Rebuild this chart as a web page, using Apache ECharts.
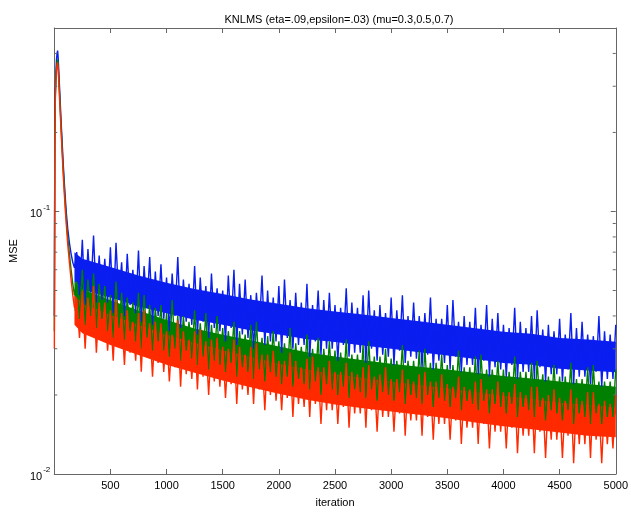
<!DOCTYPE html>
<html>
<head>
<meta charset="utf-8">
<script src="https://cdn.jsdelivr.net/npm/echarts@6/dist/echarts.min.js"></script>
<style>
  html, body { margin: 0; padding: 0; background: #fff; }
  #chart { width: 631px; height: 513px; }
</style>
</head>
<body>
<div id="chart"></div>
<script>
// iterations for the fast initial drop, then a regular grid from 200 to 5000
const earlyIter = [1, 5, 10, 15, 20, 25, 30, 35, 40, 50, 60, 70, 80, 90, 100, 110, 120, 135, 150, 165, 180];
const tailStart = 200;
const tailStep = 25;

// MSE values in units of 1e-3 (per mille)
const blueEarly  = [40, 200, 290, 340, 380, 400, 410, 385, 345, 280, 225, 185, 152, 128, 110, 96, 86, 76, 69, 64, 61];
const greenEarly = [35, 190, 280, 325, 355, 370, 380, 360, 325, 265, 215, 175, 145, 122, 104, 90, 80, 69, 60, 53, 48];
const redEarly   = [30, 180, 270, 315, 345, 360, 370, 350, 315, 255, 206, 168, 138, 116, 99, 86, 75, 64, 55, 48, 43];

// spiky samples, one every 25 iterations
const blueTail = [
  70, 48, 78, 44, 72, 49, 81, 45, 68, 46,
  66, 45, 73, 41, 76, 46, 64, 40, 69, 44,
  60, 41, 71, 38, 62, 43, 67, 37, 59, 40,
  63, 39, 56, 35, 58, 40, 67, 36, 55, 38,
  53, 37, 62, 34, 56, 38, 52, 33, 58, 36,
  51, 35, 50, 32, 57, 36, 60, 31, 53, 34,
  55, 33, 48, 30, 49, 35, 57, 31, 50, 32,
  47, 32, 52, 29, 55, 33, 46, 30, 49, 31,
  45, 31, 53, 28, 44, 32, 50, 28.5, 46, 30,
  49, 30, 44, 27, 43, 31, 51, 28, 45, 29,
  43, 29, 48, 26.5, 50, 30, 42, 27, 44, 28.5,
  41, 28, 47, 26, 42, 29.5, 48, 26.5, 40, 28,
  45, 27.5, 40, 25.5, 41, 28.5, 47, 25, 39, 27,
  39, 26.5, 44, 25, 46, 28, 38, 24.5, 40, 26,
  38, 26, 43, 24, 37, 27, 44, 23.5, 39, 25.5,
  41, 25, 37, 23.5, 36, 26, 43, 23, 38, 24.5,
  36, 24.5, 40, 23, 42, 25.5, 35.5, 22.5, 37, 24,
  35, 24, 39, 22.5, 34, 25, 41, 22, 36, 23.5,
  38, 23.5, 34, 22, 33.5, 24.5, 40, 21.5, 35, 23,
  34, 23, 37
];
const greenTail = [
  54, 39, 60, 37, 55, 40, 58, 36, 53, 39,
  52, 35, 48, 33, 54, 36, 49, 32.5, 47, 35,
  45, 32, 49, 30, 48, 33, 44, 29.5, 43, 32,
  44, 29.5, 41, 28, 46, 30, 40, 27, 40, 29.5,
  38, 27.5, 42, 26, 37.5, 28, 41, 25, 37, 27,
  40, 26, 36, 24.5, 35, 26.5, 38, 23.5, 35, 25.5,
  34, 24.5, 37, 23, 38, 25, 33, 22.5, 33.5, 24.5,
  35, 23.5, 32, 22, 31.5, 23.5, 36, 21.5, 31.5, 23,
  30.5, 22, 34, 21, 30, 22.5, 33, 20, 30, 22,
  32, 21, 29.5, 20, 29, 21.5, 32.5, 19.5, 28.5, 21,
  28.5, 20.5, 31, 19.5, 32, 21, 28, 19, 28, 20.5,
  30, 20, 27.5, 19, 27, 20.5, 31, 18.5, 27, 20,
  27, 19.5, 29.5, 18.5, 30, 20, 26.5, 18, 26.5, 19.5,
  28.5, 19, 26, 18, 26, 19.5, 29.5, 17.5, 25.5, 19,
  25.5, 18.5, 28, 17.5, 28.5, 19, 25, 17, 25, 18.5,
  27, 18, 25, 17, 24.5, 18.5, 28, 16.5, 24.5, 18,
  24.5, 17.5, 26.5, 16.5, 27, 18, 24, 16, 23.5, 17.5,
  26, 17, 23.5, 16, 23.5, 17.5, 26.5, 15.5, 23, 17,
  23, 16.5, 25.5, 15.5, 26, 17, 22.5, 15.5, 22.5, 16.5,
  22.5, 16.5, 25
];
const redTail = [
  46, 33, 50, 30, 47, 34, 52, 29, 45, 33,
  45, 29.5, 42, 27, 46, 31, 41, 26, 42, 29,
  38, 27, 41, 24.5, 42, 28, 37.5, 23.5, 38, 26.5,
  37.5, 24.5, 35, 22.5, 34, 25.5, 38.5, 21.5, 35, 24,
  32.5, 23, 35, 21, 35.5, 23.5, 32, 20, 32.5, 22.5,
  33, 21.5, 30.5, 19.5, 30, 22, 32.5, 18.5, 30.5, 21,
  28.5, 20, 30.5, 18.5, 31.5, 21, 28.5, 17.5, 28.5, 20,
  29.5, 19, 27, 17.5, 27, 19.5, 29, 16.5, 27, 18.5,
  25.5, 18, 27.5, 16.5, 28, 18.5, 25.5, 15.5, 25.5, 17.5,
  27, 17.5, 24.5, 15.5, 24.5, 18, 26.5, 15, 24.5, 17,
  24, 17, 25.5, 15, 26, 17.5, 23.5, 14.5, 24, 16.5,
  25.5, 16.5, 23, 14.5, 23, 17, 25, 14, 23, 16,
  22.5, 16, 24, 14, 24.5, 16.5, 22.5, 13.5, 22.5, 15.5,
  24, 15.5, 22, 13.5, 21.5, 16, 23.5, 13, 21.5, 15,
  21, 15, 22.5, 13, 23, 15.5, 21, 12.5, 21, 14.5,
  22.5, 14.5, 20.5, 12.5, 20.5, 15, 22, 12, 20.5, 14,
  20, 14, 21.5, 12, 21.5, 14.5, 19.5, 11.5, 20, 13.5,
  21, 13.5, 19.5, 11.5, 19, 14, 21, 11, 19.5, 13,
  19, 13, 20.5, 11.5, 20.5, 13.5, 18.5, 11, 19, 13,
  18.5, 12.5, 20
];

// dense core of each noisy trace (per mille): lower and upper edge
const bandIter = [180, 250, 500, 750, 1000, 1250, 1500, 1750, 2000, 2250, 2500, 2750, 3000, 3250, 3500, 3750, 4000, 4250, 4500, 4750, 5000];
const blueLo  = [54, 50.5, 47, 43.5, 41, 38.7, 37, 35.2, 34, 32.6, 31.8, 30.9, 30, 29.1, 28.3, 27.4, 26.5, 26.1, 25.2, 24.8, 24.4];
const blueHi  = [70, 66, 61.5, 57, 53.5, 50.7, 48.5, 46.2, 44.5, 42.8, 41.6, 40.5, 39.3, 38.2, 37, 35.9, 34.8, 34.2, 33, 32.5, 31.9];
const greenLo = [42, 39.6, 36, 33, 30.4, 28.2, 26.7, 25.3, 24, 22.9, 22, 21.3, 20.7, 20.2, 19.6, 19.1, 18.6, 18.1, 17.7, 17.2, 16.9];
const greenHi = [54, 50.4, 45.9, 42, 38.6, 35.8, 33.9, 32.3, 30.6, 29.1, 28, 27.1, 26.3, 25.6, 25, 24.3, 23.6, 23.1, 22.5, 22, 21.5];
const redLo   = [37, 34.4, 31, 28.4, 26.1, 24.3, 22.7, 21.4, 20.2, 19.2, 18.4, 17.8, 17.3, 16.8, 16.3, 15.7, 15.2, 14.8, 14.4, 14, 13.8];
const redHi   = [48, 44.8, 40.3, 37, 33.9, 31.6, 29.6, 27.9, 26.3, 25, 24, 23.2, 22.5, 21.8, 21.2, 20.5, 19.8, 19.3, 18.7, 18.3, 17.9];

const xTicks = [500, 1000, 1500, 2000, 2500, 3000, 3500, 4000, 4500, 5000];
const yMinorTicks = [0.02, 0.03, 0.04, 0.05, 0.06, 0.07, 0.08, 0.09, 0.2, 0.3, 0.4];

function build(early, tail) {
  const pts = early.map((v, i) => [earlyIter[i], v / 1000]);
  tail.forEach((v, i) => pts.push([tailStart + i * tailStep, v / 1000]));
  return pts;
}

const chart = echarts.init(document.getElementById('chart'));
const font = 'Liberation Sans, Arial, sans-serif';
const frame = '#666';
const yMin = 0.01, yMax = 0.5;

const supLabel = v => {
  const e = Math.round(Math.log10(v));
  if (Math.abs(Math.log10(v) - e) > 1e-6) return '';
  return '{b|10}{s|' + e + '}';
};

// band = filled polygon between lo and hi, placed through the axes
function band(color, lo, hi) {
  return {
    type: 'custom', silent: true, clip: true,
    data: bandIter.map((x, i) => [x, lo[i] / 1000, hi[i] / 1000]),
    encode: { x: 0, y: [1, 2] },
    renderItem: (params, api) => {
      if (params.dataIndex !== 0) return null;
      const pts = [];
      bandIter.forEach((x, i) => pts.push(api.coord([x, lo[i] / 1000])));
      for (let i = bandIter.length - 1; i >= 0; i--) pts.push(api.coord([bandIter[i], hi[i] / 1000]));
      return { type: 'polygon', shape: { points: pts }, style: { fill: color } };
    }
  };
}

function trace(name, color, early, tail, lo, hi) {
  return [
    band(color, lo, hi),
    {
      type: 'line', name: name, data: build(early, tail),
      showSymbol: false, symbol: 'none',
      lineStyle: { color: color, width: 1.4 }
    }
  ];
}

const option = {
  animation: false,
  backgroundColor: '#fff',
  title: {
    text: 'KNLMS (eta=.09,epsilon=.03) (mu=0.3,0.5,0.7)',
    left: 334, top: 9, textAlign: 'center',
    textStyle: { fontFamily: font, fontSize: 11, fontWeight: 'normal', color: '#000' }
  },
  grid: { left: 51, top: 28, right: 13, bottom: 39, show: false },
  xAxis: [{
    type: 'value', min: 0, max: 5000, interval: 500,
    name: 'iteration', nameLocation: 'middle', nameGap: 23,
    nameTextStyle: { fontFamily: font, fontSize: 11, color: '#000' },
    axisLine: { onZero: false, lineStyle: { color: frame, width: 1 } },
    axisTick: { inside: true, length: 5, lineStyle: { color: frame } },
    axisLabel: {
      fontFamily: font, fontSize: 11, color: '#000', margin: 6,
      formatter: v => (xTicks.indexOf(v) >= 0 ? String(v) : '')
    },
    splitLine: { show: false }
  }, {
    type: 'value', min: 0, max: 5000, interval: 500, position: 'top',
    axisLine: { onZero: false, lineStyle: { color: frame, width: 1 } },
    axisTick: { inside: true, length: 5, lineStyle: { color: frame } },
    axisLabel: { show: false },
    splitLine: { show: false }
  }],
  yAxis: [{
    type: 'log', logBase: 10, min: yMin, max: yMax,
    name: 'MSE', nameLocation: 'middle', nameGap: 33, nameRotate: 90,
    nameTextStyle: { fontFamily: font, fontSize: 11, color: '#000' },
    axisLine: { onZero: false, lineStyle: { color: frame, width: 1 } },
    axisTick: { inside: true, length: 5, lineStyle: { color: frame } },
    axisLabel: {
      fontFamily: font, color: '#000', margin: 4,
      formatter: supLabel,
      rich: {
        b: { fontFamily: font, fontSize: 11, color: '#000', lineHeight: 16, verticalAlign: 'bottom' },
        s: { fontFamily: font, fontSize: 8, color: '#000', lineHeight: 8, verticalAlign: 'top', padding: [0, 0, 0, 1] }
      }
    },
    splitLine: { show: false }
  }, {
    type: 'log', logBase: 10, min: yMin, max: yMax, position: 'right',
    axisLine: { onZero: false, lineStyle: { color: frame, width: 1 } },
    axisTick: { inside: true, length: 5, lineStyle: { color: frame } },
    axisLabel: { show: false },
    splitLine: { show: false }
  }],
  series: [
    ...trace('mu=0.3', '#0a1ef0', blueEarly, blueTail, blueLo, blueHi),
    ...trace('mu=0.5', '#008000', greenEarly, greenTail, greenLo, greenHi),
    ...trace('mu=0.7', '#ff2a00', redEarly, redTail, redLo, redHi),
    {
      // minor log ticks on both sides of the box
      type: 'custom', z: 5, silent: true,
      data: yMinorTicks.map(v => [0, v]),
      renderItem: (params, api) => {
        const l = api.coord([0, api.value(1)]);
        const r = api.coord([5000, api.value(1)]);
        return {
          type: 'group',
          children: [
            { type: 'line', shape: { x1: l[0], y1: l[1], x2: l[0] + 3, y2: l[1] }, style: { stroke: frame, lineWidth: 1 } },
            { type: 'line', shape: { x1: r[0] - 3, y1: r[1], x2: r[0], y2: r[1] }, style: { stroke: frame, lineWidth: 1 } }
          ]
        };
      }
    }
  ]
};
chart.setOption(option);
</script>
</body>
</html>
